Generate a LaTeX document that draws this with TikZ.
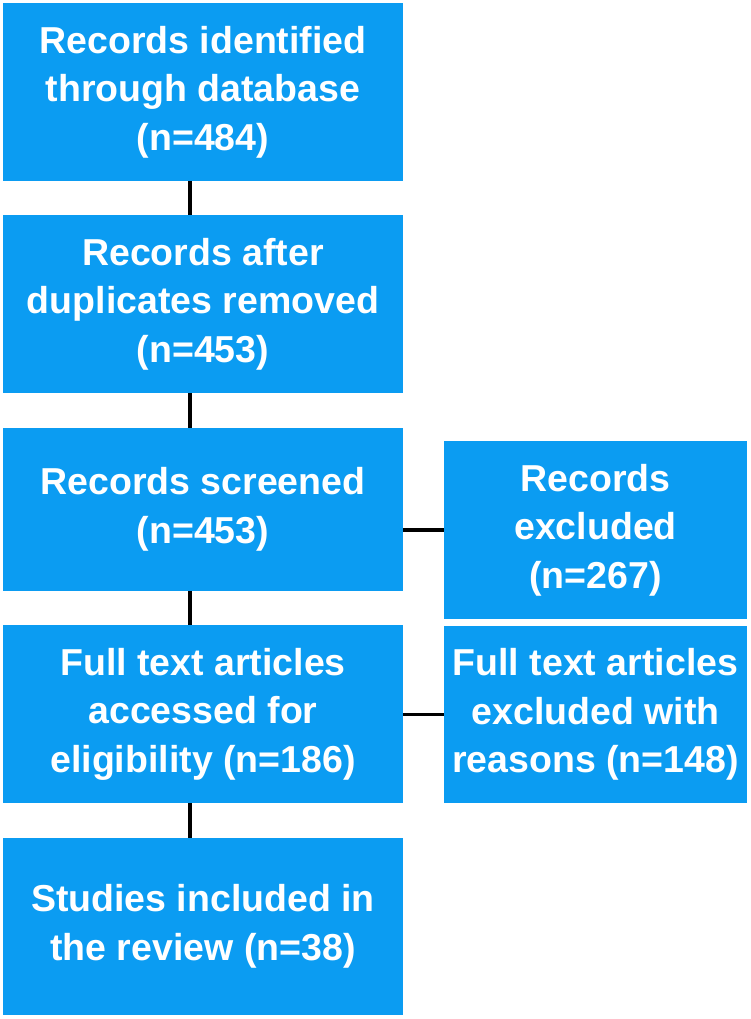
\documentclass[tikz,border=0pt]{standalone}
\usepackage{fontspec}
\setmainfont{Liberation Sans}
\usepackage{tikz}
\usetikzlibrary{positioning, calc}
\definecolor{flowblue}{HTML}{0B9CF2}
\definecolor{linkdark}{HTML}{000000}

\begin{document}
\begin{tikzpicture}[
  x=1pt, y=-1pt,
  link/.style={draw=linkdark, line width=3.2pt},
  stagebox/.style={fill=flowblue, text=white, align=center, inner sep=0pt,
                   minimum width=400pt, minimum height=178pt,
                   font=\fontsize{37.5}{48.5}\selectfont\bfseries},
  sidebox/.style={stagebox, minimum width=303pt},
]
  % Page frame
  \useasboundingbox[fill=white] (0,0) rectangle (750,1019);

  % Main column
  \node[stagebox] (ident) at (203,92) {Records identified\\through database\\(n=484)};
  \node[stagebox] (dedup) at (203,304) {Records after\\duplicates removed\\(n=453)};
  \node[stagebox, minimum height=163pt] (screen) at (203,509.5) {Records screened\\(n=453)};
  \node[stagebox] (fulltext) at (203,714) {Full text articles\\accessed for\\eligibility (n=186)};
  \node[stagebox, minimum height=177pt] (incl) at (203,926.5) {Studies included in\\the review (n=38)};

  % Exclusions on the right
  \node[sidebox] (excl) at (595.5,530) {Records\\excluded\\(n=267)};
  \node[sidebox, minimum height=177pt] (reasons) at (595.5,714.5) {Full text articles\\excluded with\\reasons (n=148)};

  % Vertical spine
  \coordinate (spine) at (190,0);
  \draw[link] (ident.south -| spine) -- (dedup.north -| spine);
  \draw[link] (dedup.south -| spine) -- (screen.north -| spine);
  \draw[link] (screen.south -| spine) -- (fulltext.north -| spine);
  \draw[link] (fulltext.south -| spine) -- (incl.north -| spine);

  % Side links
  \draw[link] (excl.west -| screen.east) -- (excl.west);
  \draw[link] (reasons.west -| fulltext.east) -- (reasons.west);
\end{tikzpicture}
\end{document}
